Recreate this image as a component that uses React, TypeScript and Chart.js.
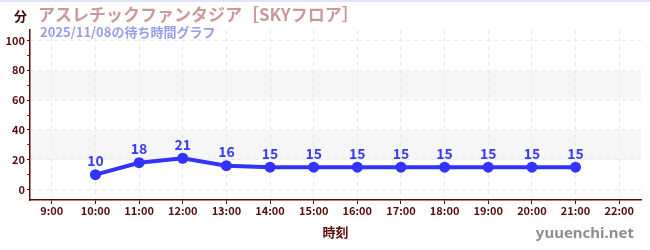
import { useEffect, useRef } from "react";
import { Chart, registerables } from "chart.js";

Chart.register(...registerables);

const hours = ["9:00", "10:00", "11:00", "12:00", "13:00", "14:00", "15:00", "16:00", "17:00", "18:00", "19:00", "20:00", "21:00", "22:00"];
const waits: (number | null)[] = [null, 10, 18, 21, 16, 15, 15, 15, 15, 15, 15, 15, 15, null];
const bands: [number, number][] = [[20, 40], [60, 80]];

const titleText = "アスレチックファンタジア［SKYフロア］";
const subtitleText = "2025/11/08の待ち時間グラフ";
const unitText = "分";
const xTitleText = "時刻";
const watermarkText = "yuuenchi.net";

const FONT = "'Noto Sans CJK JP', 'Noto Sans', sans-serif";
const AXIS_COLOR = "#5a0a0a";
const LINE_COLOR = "#3333ff";

const decorPlugin = {
  id: "decor",
  beforeDraw(chart: any) {
    const { ctx, chartArea, scales } = chart;
    const y = scales.y;
    ctx.save();
    ctx.fillStyle = "#f6f6f6";
    for (const [a, b] of bands) {
      const top = y.getPixelForValue(b);
      const bot = y.getPixelForValue(a);
      ctx.fillRect(chartArea.left, top, chartArea.right - chartArea.left, bot - top);
    }
    ctx.strokeStyle = "#e2e4fa";
    ctx.lineWidth = 2;
    ctx.beginPath();
    ctx.moveTo(0, 1);
    ctx.lineTo(chart.width, 1);
    ctx.stroke();
    ctx.restore();
  },
  afterDatasetsDraw(chart: any) {
    const { ctx } = chart;
    const meta = chart.getDatasetMeta(0);
    ctx.save();
    ctx.font = `bold 14px ${FONT}`;
    ctx.fillStyle = "#3a3af5";
    ctx.textAlign = "center";
    ctx.textBaseline = "middle";
    meta.data.forEach((pt: any, i: number) => {
      const v = waits[i];
      if (v === null || v === undefined) return;
      ctx.fillText(String(v), pt.x, pt.y - 14);
    });
    ctx.restore();
  },
  afterDraw(chart: any) {
    const { ctx, chartArea } = chart;
    ctx.save();
    ctx.textBaseline = "middle";
    ctx.textAlign = "left";
    ctx.font = `bold 13px ${FONT}`;
    ctx.fillStyle = "#3a0a0a";
    ctx.fillText(unitText, 14, 16);
    ctx.font = `bold 17px ${FONT}`;
    ctx.fillStyle = "#c99a9a";
    ctx.fillText(titleText, 38, 15);
    ctx.font = `bold 13px ${FONT}`;
    ctx.fillStyle = "#9a9cf0";
    ctx.fillText(subtitleText, 40, 32);
    ctx.textAlign = "center";
    ctx.font = `bold 13px ${FONT}`;
    ctx.fillStyle = AXIS_COLOR;
    ctx.fillText(xTitleText, (chartArea.left + chartArea.right) / 2, 232);
    ctx.textAlign = "right";
    ctx.font = `bold 15px 'Noto Sans', sans-serif`;
    ctx.fillStyle = "#8e8e8e";
    ctx.fillText(watermarkText, 634, 234);
    ctx.restore();
  },
};

export default function App() {
  const ref = useRef<HTMLCanvasElement | null>(null);
  useEffect(() => {
    document.body.style.margin = "0";
    const canvas = ref.current;
    if (!canvas) return;
    const chart = new Chart(canvas, {
      type: "line",
      data: {
        labels: hours,
        datasets: [
          {
            data: waits,
            borderColor: LINE_COLOR,
            backgroundColor: LINE_COLOR,
            borderWidth: 4,
            pointRadius: 5.5,
            pointHoverRadius: 5.5,
            pointBackgroundColor: LINE_COLOR,
            pointBorderWidth: 0,
            tension: 0,
            spanGaps: false,
          },
        ],
      },
      options: {
        animation: false,
        responsive: false,
        maintainAspectRatio: false,
        layout: { padding: { top: 30, right: 9, left: 0, bottom: 0 } },
        plugins: {
          legend: { display: false },
          tooltip: { enabled: false },
          title: { display: false },
        },
        scales: {
          x: {
            type: "category",
            offset: true,
            afterFit: (s: any) => {
              s.height = 50;
            },
            grid: {
              offset: false,
              drawOnChartArea: true,
              color: "#e8e8e8",
              tickColor: AXIS_COLOR,
              tickLength: 4,
              tickWidth: 1,
            },
            border: { display: true, color: AXIS_COLOR, width: 1.5, dash: [4, 4] },
            ticks: {
              color: AXIS_COLOR,
              font: { family: FONT, size: 11, weight: "bold" },
              padding: 0,
              maxRotation: 0,
              autoSkip: false,
            },
          },
          y: {
            type: "linear",
            min: -7,
            max: 107,
            afterFit: (s: any) => {
              s.width = 30;
            },
            grid: {
              color: (c: any) => (c.tick && c.tick.value % 20 === 0 ? "#e8e8e8" : "rgba(0,0,0,0)"),
              tickColor: (c: any) => (c.tick && c.tick.value % 20 === 0 ? AXIS_COLOR : "#d01010"),
              tickLength: 3,
              tickWidth: 1,
            },
            border: { display: true, color: AXIS_COLOR, width: 1.5, dash: [4, 4] },
            ticks: {
              stepSize: 10,
              includeBounds: false,
              color: AXIS_COLOR,
              padding: 2,
              font: { family: FONT, size: 11, weight: "bold" },
              callback: (v: any) => (Number(v) % 20 === 0 ? String(v) : ""),
            },
          },
        },
      },
      plugins: [decorPlugin],
    } as any);
    return () => chart.destroy();
  }, []);
  return <canvas ref={ref} width={650} height={250} style={{ display: "block" }} />;
}
